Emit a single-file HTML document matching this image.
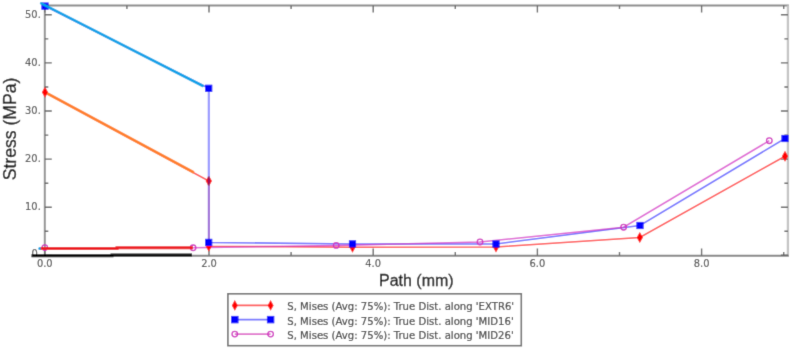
<!DOCTYPE html>
<html><head><meta charset="utf-8"><style>
html,body{margin:0;padding:0;background:#fff;width:790px;height:349px;overflow:hidden}
svg{display:block}
</style></head><body>
<svg width="790" height="349" viewBox="0 0 790 349"><defs><filter id="soft" filterUnits="userSpaceOnUse" x="0" y="0" width="790" height="349"><feConvolveMatrix order="3" kernelMatrix="1 7 1 7 48 7 1 7 1" divisor="80" edgeMode="duplicate" preserveAlpha="true"/></filter></defs><g filter="url(#soft)"><rect width="790" height="349" fill="#fff"/><path d="M44.8 5.4V255.6" stroke="#939393" stroke-width="2.0"/>
<path d="M43.8 5.4H788.9" stroke="#8c8c8c" stroke-width="2"/>
<path d="M787.9 5.4V255.6" stroke="#c4c4c4" stroke-width="2.3"/>
<path d="M43.8 255.75H788.9" stroke="#858585" stroke-width="1.9"/>
<path d="M44.8 255.6v-7M44.8 5.4v7M126.9 5.4v3.5M209.0 255.6v-7M209.0 5.4v7M291.1 255.6v-3.5M291.1 5.4v3.5M373.2 255.6v-7M373.2 5.4v7M455.3 255.6v-3.5M455.3 5.4v3.5M537.4 255.6v-7M537.4 5.4v7M619.5 255.6v-3.5M619.5 5.4v3.5M701.6 255.6v-7M701.6 5.4v7M783.7 255.6v-3.5M783.7 5.4v3.5M44.8 255.3h7M787.9 255.3h-7M44.8 231.2h3.5M787.9 231.2h-3.5M44.8 207.2h7M787.9 207.2h-7M44.8 183.2h3.5M787.9 183.2h-3.5M44.8 159.1h7M787.9 159.1h-7M44.8 135.1h3.5M787.9 135.1h-3.5M44.8 111.0h7M787.9 111.0h-7M44.8 87.0h3.5M787.9 87.0h-3.5M44.8 62.9h7M787.9 62.9h-7M44.8 38.9h3.5M787.9 38.9h-3.5M44.8 14.8h7M787.9 14.8h-7" stroke="#666" stroke-width="1.4" fill="none"/>
<g font-family="DejaVu Sans, sans-serif" font-size="9.9" fill="#4a4a4a" stroke="#4a4a4a" stroke-width="0.15"><text x="44.8" y="266.8" text-anchor="middle">0.0</text><text x="209.0" y="266.8" text-anchor="middle">2.0</text><text x="373.2" y="266.8" text-anchor="middle">4.0</text><text x="537.4" y="266.8" text-anchor="middle">6.0</text><text x="701.6" y="266.8" text-anchor="middle">8.0</text><text x="40.8" y="210.1" text-anchor="end">10.</text><text x="40.8" y="162.0" text-anchor="end">20.</text><text x="40.8" y="113.9" text-anchor="end">30.</text><text x="40.8" y="65.8" text-anchor="end">40.</text><text x="40.8" y="17.7" text-anchor="end">50.</text><text x="40.8" y="257.0" text-anchor="end">0.</text></g>
<text x="379" y="285.5" font-family="Liberation Sans, Arial, sans-serif" font-size="16" fill="#111" stroke="#111" stroke-width="0.3">Path (mm)</text>
<text transform="translate(15.5 180.3) rotate(-90)" x="0" y="0" font-family="Liberation Sans, Arial, sans-serif" font-size="17.6" fill="#111" stroke="#111" stroke-width="0.3">Stress (MPa)</text>
<polyline points="45,92.3 208.8,181 208.8,246.2 352.5,247.3 496,247 639.8,237.5 785,156.2" fill="none" stroke="#ff5656" stroke-width="1.55"/>
<path d="M45 86.8L48.15 92.3L45 97.8L41.85 92.3Z" fill="#ff0000"/>
<path d="M208.8 175.5L211.95000000000002 181L208.8 186.5L205.65 181Z" fill="#ff0000"/>
<path d="M639.8 232.0L642.9499999999999 237.5L639.8 243.0L636.65 237.5Z" fill="#ff0000"/>
<path d="M785 150.7L788.15 156.2L785 161.7L781.85 156.2Z" fill="#ff0000"/>
<polyline points="45,6.1 208.7,88.3 208.7,242.4 352.5,243.9 496,244 640,225.5 785,138.5" fill="none" stroke="#7474ff" stroke-width="1.55"/>
<line x1="208.85" y1="90" x2="208.85" y2="177" stroke="#9a9aff" stroke-width="2.1"/>
<line x1="208.9" y1="184" x2="208.9" y2="245" stroke="#a070d8" stroke-width="2.1"/>
<line x1="208.9" y1="176.5" x2="208.9" y2="185.5" stroke="#9a0a5a" stroke-width="2"/>
<polyline points="193.1,247.8 336.2,245.4 480,242 623.6,227.2 769.3,140.7" fill="none" stroke="#d01ec0" stroke-opacity="0.68" stroke-width="1.55"/>
<path d="M208.8 240.7L211.95000000000002 246.2L208.8 251.7L205.65 246.2Z" fill="#ff0000"/>
<path d="M352.5 241.8L355.65 247.3L352.5 252.8L349.35 247.3Z" fill="#ff0000"/>
<path d="M496 241.5L499.15 247L496 252.5L492.85 247Z" fill="#ff0000"/>
<rect x="41.40" y="2.50" width="7.2" height="7.2" fill="#0000ff"/>
<rect x="205.10" y="84.70" width="7.2" height="7.2" fill="#0000ff"/>
<rect x="205.10" y="238.80" width="7.2" height="7.2" fill="#0000ff"/>
<rect x="348.90" y="240.30" width="7.2" height="7.2" fill="#0000ff"/>
<rect x="492.40" y="240.40" width="7.2" height="7.2" fill="#0000ff"/>
<rect x="636.40" y="221.90" width="7.2" height="7.2" fill="#0000ff"/>
<rect x="781.40" y="134.90" width="7.2" height="7.2" fill="#0000ff"/>
<circle cx="44.8" cy="247.6" r="2.8" fill="none" stroke="#d030c0" stroke-width="1.3"/>
<circle cx="193.1" cy="247.8" r="2.8" fill="none" stroke="#d030c0" stroke-width="1.3"/>
<circle cx="336.2" cy="245.4" r="2.8" fill="none" stroke="#d030c0" stroke-width="1.3"/>
<circle cx="480" cy="242" r="2.8" fill="none" stroke="#d030c0" stroke-width="1.3"/>
<circle cx="623.6" cy="227.2" r="2.8" fill="none" stroke="#d030c0" stroke-width="1.3"/>
<circle cx="769.3" cy="140.7" r="2.8" fill="none" stroke="#d030c0" stroke-width="1.3"/>
<path d="M41.2 3.4L202.5 85.8" stroke="#00a2e8" stroke-width="2.7" stroke-linecap="round"/>
<path d="M48.3 94L193 172" stroke="#ff7f27" stroke-width="2.7" stroke-linecap="round"/>
<circle cx="39.8" cy="248.6" r="1.5" fill="#00a2e8"/>
<path d="M40.7 248.6H117V247.7H193" stroke="#ed1c24" stroke-width="3" fill="none"/>
<path d="M31.5 255.8H112V254.9H192" stroke="#000" stroke-width="3" fill="none"/>
<rect x="227.9" y="293.8" width="293.4" height="51.9" fill="none" stroke="#707070" stroke-width="1.6"/><line x1="234.8" y1="305.4" x2="270.6" y2="305.4" stroke="#ff5656" stroke-width="1.8"/><path d="M234.8 300.0L237.8 305.4L234.8 310.79999999999995L231.8 305.4Z" fill="#ff0000"/><path d="M270.6 300.0L273.6 305.4L270.6 310.79999999999995L267.6 305.4Z" fill="#ff0000"/><text x="287.3" y="310.4" font-family="DejaVu Sans, sans-serif" font-size="10.1" fill="#3c3c3c" stroke="#3c3c3c" stroke-width="0.2">S, Mises (Avg: 75%): True Dist. along 'EXTR6'</text><line x1="234.8" y1="319.6" x2="270.6" y2="319.6" stroke="#7474ff" stroke-width="1.8"/><rect x="231.10" y="315.90" width="7.4" height="7.4" fill="#0000ff"/><rect x="266.90" y="315.90" width="7.4" height="7.4" fill="#0000ff"/><text x="287.3" y="324.6" font-family="DejaVu Sans, sans-serif" font-size="10.1" fill="#3c3c3c" stroke="#3c3c3c" stroke-width="0.2">S, Mises (Avg: 75%): True Dist. along 'MID16'</text><line x1="234.8" y1="334.1" x2="270.6" y2="334.1" stroke="#e070cc" stroke-width="1.8"/><circle cx="234.8" cy="334.1" r="2.8" fill="none" stroke="#d030c0" stroke-width="1.3"/><circle cx="270.6" cy="334.1" r="2.8" fill="none" stroke="#d030c0" stroke-width="1.3"/><text x="287.3" y="339.1" font-family="DejaVu Sans, sans-serif" font-size="10.1" fill="#3c3c3c" stroke="#3c3c3c" stroke-width="0.2">S, Mises (Avg: 75%): True Dist. along 'MID26'</text></g></svg>
</body></html>
